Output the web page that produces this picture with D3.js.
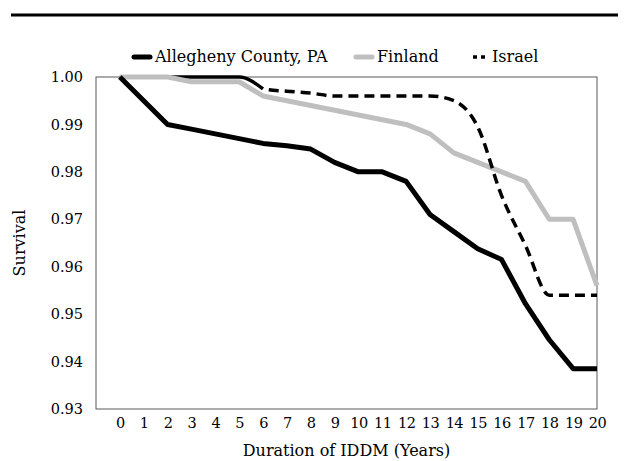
<!DOCTYPE html>
<html>
<head>
<meta charset="utf-8">
<script src="https://cdn.jsdelivr.net/npm/d3@7"></script>
<style>
  body { margin: 0; background: #fff; }
  svg text { font-family: "DejaVu Serif", serif; fill: #000; }
</style>
</head>
<body>
<script>
// survival by duration of IDDM
const years = [0, 1, 2, 3, 4, 5, 6, 7, 8, 9, 10, 11, 12, 13, 14, 15, 16, 17, 18, 19, 20];
const allegheny = [1.000, 0.995, 0.990, 0.989, 0.988, 0.987, 0.986, 0.9855, 0.9848, 0.982, 0.980,
                   0.980, 0.978, 0.971, 0.9674, 0.9638, 0.9615, 0.9522, 0.9446, 0.9385, 0.9385];
const finland = [1.000, 1.000, 1.000, 0.999, 0.999, 0.999, 0.996, 0.995, 0.994, 0.993, 0.992,
                 0.991, 0.990, 0.988, 0.984, 0.982, 0.980, 0.978, 0.970, 0.970, 0.956];
const israel = [1.000, 1.000, 1.000, 1.000, 1.000, 1.000, 0.9975, 0.997, 0.9966, 0.996, 0.996,
                0.996, 0.996, 0.996, 0.995, 0.9895, 0.975, 0.9645, 0.954, 0.954, 0.954];
const yTicks = [0.93, 0.94, 0.95, 0.96, 0.97, 0.98, 0.99, 1.00];
const seriesNames = ["Allegheny County, PA", "Finland", "Israel"];

const width = 624, height = 461;
const margin = {top: 77, right: 27, bottom: 52, left: 96};
const serif = '"DejaVu Serif", serif';

const svg = d3.select("body").append("svg")
    .attr("width", width)
    .attr("height", height);

svg.append("line")
    .attr("x1", 11).attr("x2", 618)
    .attr("y1", 15).attr("y2", 15)
    .attr("stroke", "#000")
    .attr("stroke-width", 3);

const x = d3.scaleLinear()
    .domain([-1, 20])
    .range([margin.left, width - margin.right]);

const y = d3.scaleLinear()
    .domain([0.93, 1.00])
    .range([height - margin.bottom, margin.top]);

// plot frame
svg.append("rect")
    .attr("x", x(-1)).attr("y", y(1.00))
    .attr("width", x(20) - x(-1))
    .attr("height", y(0.93) - y(1.00))
    .attr("fill", "none")
    .attr("stroke", "#595959")
    .attr("stroke-width", 1);

// y axis
const yAxis = svg.append("g")
    .attr("transform", `translate(${x(-1)},0)`)
    .call(d3.axisLeft(y).tickValues(yTicks).tickFormat(d3.format(".2f")).tickSize(0).tickPadding(13));
yAxis.attr("font-family", serif).attr("font-size", null);
yAxis.select(".domain").remove();
yAxis.selectAll("text")
    .style("font-family", serif)
    .style("font-size", "14.5px");

// x axis
const xAxis = svg.append("g")
    .attr("transform", `translate(0,${y(0.93)})`)
    .call(d3.axisBottom(x).tickValues(years).tickFormat(d3.format("d")).tickSize(0).tickPadding(9));
xAxis.attr("font-family", serif).attr("font-size", null);
xAxis.select(".domain").remove();
xAxis.selectAll("text")
    .style("font-family", serif)
    .style("font-size", "14.5px")
    .style("letter-spacing", "-0.5px");

svg.append("text")
    .attr("x", (x(-1) + x(20)) / 2)
    .attr("y", 456)
    .attr("text-anchor", "middle")
    .style("font-size", "16px")
    .text("Duration of IDDM (Years)");

svg.append("text")
    .attr("transform", `translate(25,${(y(0.93) + y(1.00)) / 2}) rotate(-90)`)
    .attr("text-anchor", "middle")
    .style("font-size", "16px")
    .text("Survival");

const line = d3.line()
    .x((d, i) => x(years[i]))
    .y(d => y(d));

const smooth = d3.line()
    .x((d, i) => x(years[i]))
    .y(d => y(d))
    .curve(d3.curveMonotoneX);

// Israel: the early flat stretch renders solid in the original
svg.append("path")
    .datum(israel.slice(0, 7))
    .attr("d", smooth)
    .attr("fill", "none")
    .attr("stroke", "#000")
    .attr("stroke-width", 3.5);

svg.append("path")
    .datum(finland)
    .attr("d", line)
    .attr("fill", "none")
    .attr("stroke", "#bfbfbf")
    .attr("stroke-width", 5)
    .attr("stroke-linejoin", "round");

svg.append("path")
    .datum(allegheny)
    .attr("d", line)
    .attr("fill", "none")
    .attr("stroke", "#000")
    .attr("stroke-width", 5)
    .attr("stroke-linejoin", "round");

const dashes = d3.range(40).map(() => "10,6").join(",");
svg.append("path")
    .datum(israel)
    .attr("d", smooth)
    .attr("fill", "none")
    .attr("stroke", "#000")
    .attr("stroke-width", 3.5)
    .attr("stroke-dasharray", "0,152," + dashes);

// legend
const legendStyles = [
  {color: "#000", width: 5, dash: null, left: 131},
  {color: "#bfbfbf", width: 5, dash: null, left: 353},
  {color: "#000", width: 3.5, dash: "5,5", left: 468}
];
seriesNames.forEach((name, i) => {
  const st = legendStyles[i];
  const g = svg.append("g");
  g.append("line")
      .attr("x1", st.left + 3).attr("x2", st.left + 19)
      .attr("y1", 57).attr("y2", 57)
      .attr("stroke", st.color)
      .attr("stroke-width", st.width)
      .attr("stroke-linecap", st.dash ? "butt" : "round")
      .attr("stroke-dasharray", st.dash ? "4,4" : null)
      .attr("stroke-dashoffset", st.dash ? -2 : null);
  g.append("text")
      .attr("x", st.left + 24)
      .attr("y", 62)
      .style("font-family", serif)
      .style("font-size", "16px")
      .text(name);
});
</script>
</body>
</html>
